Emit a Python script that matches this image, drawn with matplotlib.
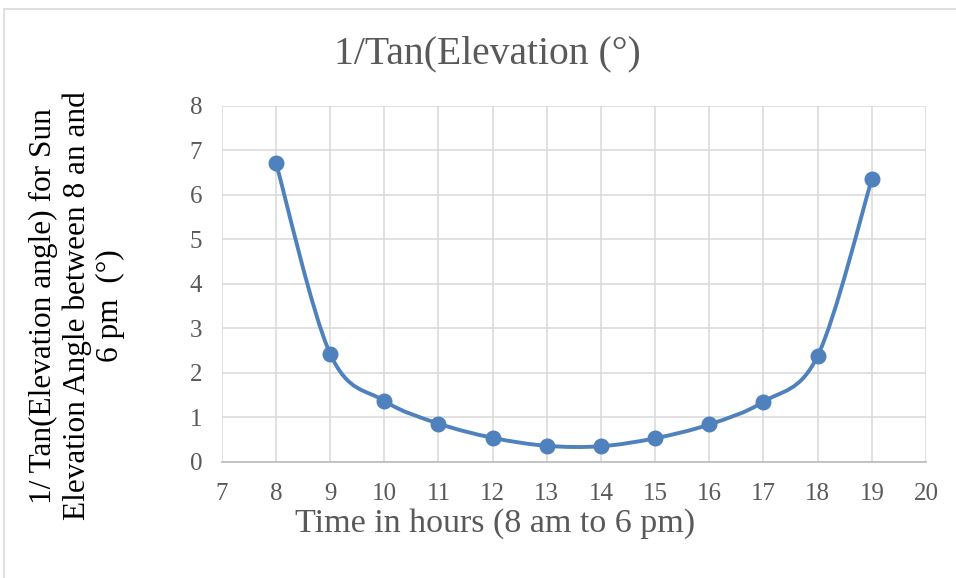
import numpy as np
import matplotlib
matplotlib.use("Agg")
import matplotlib.pyplot as plt
from matplotlib.path import Path
from matplotlib.patches import PathPatch, Rectangle

#data (1/tan of sun elevation per hour)
hours = [8, 9, 10, 11, 12, 13, 14, 15, 16, 17, 18, 19]
inv_tan = [6.72, 2.43, 1.37, 0.86, 0.54, 0.36, 0.35, 0.53, 0.84, 1.35, 2.38, 6.35]
x_ticks = list(range(7, 21))
y_ticks = list(range(0, 9))

title = "1/Tan(Elevation (°)"
x_title = "Time in hours (8 am to 6 pm)"
y_title = "1/ Tan(Elevation angle) for Sun\nElevation Angle between 8 an and\n6 pm  (°)"

blue = "#4F81BD"
grey_text = "#595959"
plt.rcParams["font.family"] = ["Liberation Serif", "DejaVu Serif"]

#smoothed line, bezier segments like a spreadsheet "smooth line"
def smooth_path(xs, ys):
    pts = np.column_stack([xs, ys]).astype(float)
    n = len(pts)
    verts = [pts[0]]
    codes = [Path.MOVETO]
    for i in range(n - 1):
        p0 = pts[max(i - 1, 0)]
        p1 = pts[i]
        p2 = pts[i + 1]
        p3 = pts[min(i + 2, n - 1)]
        c1 = p1 + (p2 - p0) / 6.0
        c2 = p2 - (p3 - p1) / 6.0
        verts += [c1, c2, p2]
        codes += [Path.CURVE4] * 3
    return Path(verts, codes)

fig = plt.figure(figsize=(9.56, 5.78), dpi=100)
ax = fig.add_axes([0.232, 0.201, 0.7366, 0.616])

ax.add_patch(PathPatch(smooth_path(hours, inv_tan), facecolor="none",
                       edgecolor=blue, lw=2.8, capstyle="round", zorder=3))
ax.plot(hours, inv_tan, "o", color=blue, markersize=10.5, zorder=4)

ax.set_xlim(7, 20)
ax.set_ylim(0, 8)
ax.set_xticks(x_ticks)
ax.set_yticks(y_ticks)
ax.grid(True, color="#D9D9D9", lw=1.1)
ax.set_axisbelow(True)
for s in ["top", "right", "left"]:
    ax.spines[s].set_visible(False)
ax.spines["bottom"].set_color("#BFBFBF")
ax.spines["bottom"].set_linewidth(1.3)
ax.tick_params(length=0, labelsize=18, labelcolor=grey_text)
ax.tick_params(axis="y", pad=14)
ax.tick_params(axis="x", pad=15)

fig.text(487 / 956, 1 - 54 / 578, title, ha="center", va="center",
         fontsize=28.5, color=grey_text)
fig.text(495 / 956, 1 - 524 / 578, x_title, ha="center", va="center",
         fontsize=24.5, color=grey_text)
fig.text(77 / 956, 1 - 306 / 578, y_title, ha="center", va="center",
         rotation=90, multialignment="center", fontsize=22.5,
         linespacing=1.2, color="black")

#outer chart border
fig.patches.append(Rectangle((4 / 956, -0.1), 1.2, 1.1 - 9 / 578,
                             transform=fig.transFigure, fill=False,
                             edgecolor="#D9D9D9", lw=1.2))

fig.savefig("out.png", dpi=100)
